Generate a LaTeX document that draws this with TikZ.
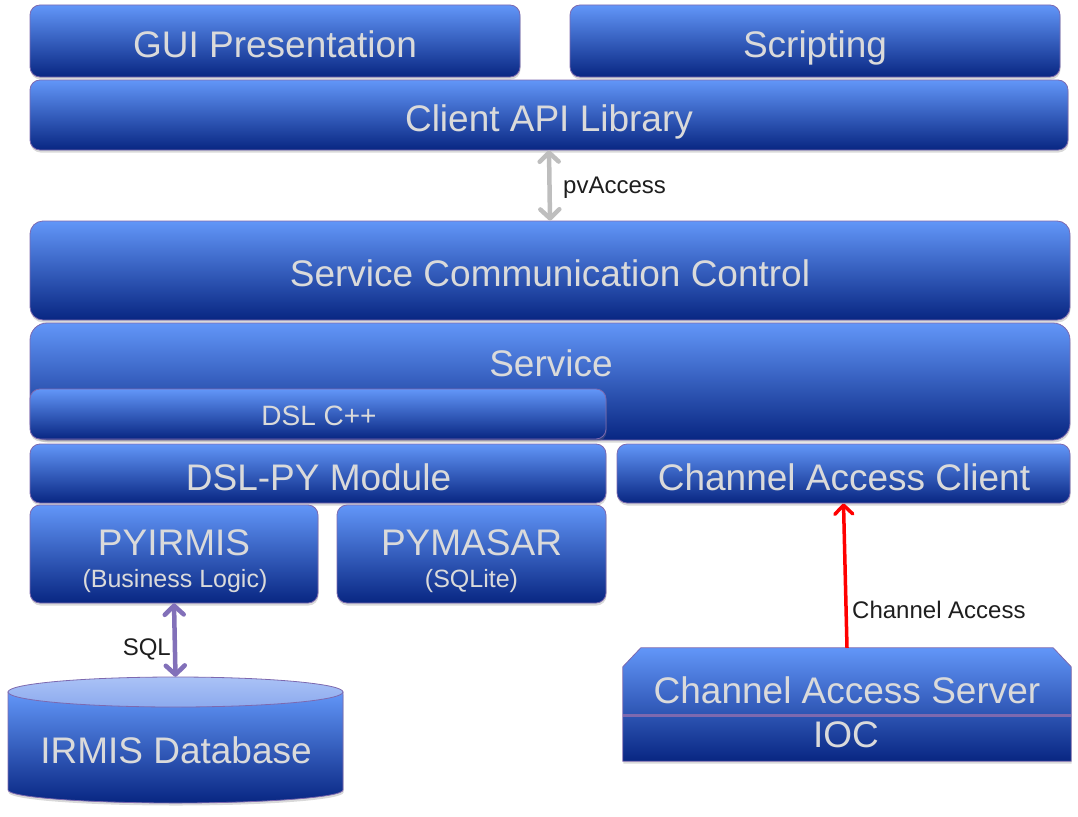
\documentclass[tikz,border=0pt]{standalone}
\usepackage{fontspec}
\setmainfont{Liberation Sans}
\usetikzlibrary{arrows.meta,shadows,calc}
\definecolor{btop}{RGB}{98,150,248}
\definecolor{bbot}{RGB}{8,38,130}
\definecolor{bline}{RGB}{125,105,175}
\definecolor{btxt}{RGB}{218,218,218}
\definecolor{pvgray}{RGB}{190,190,190}
\definecolor{sqlpurple}{RGB}{130,112,185}
\definecolor{dbtopc}{RGB}{170,194,246}
\definecolor{dbtopd}{RGB}{140,170,238}
\definecolor{lbl}{RGB}{30,30,30}
\begin{document}
\begin{tikzpicture}[x=1pt,y=-1pt,
  shad/.style={drop shadow={shadow xshift=0.5pt, shadow yshift=-2.5pt, opacity=0.3}},
  box/.style={draw=bline, line width=0.8pt, top color=btop, bottom color=bbot,
    inner sep=0pt, rounded corners=10pt, shad},
  ghost/.style={draw=none, inner sep=0pt},
  big/.style={font=\fontsize{37}{40}\selectfont, text=btxt, inner sep=0pt, anchor=base},
  mid/.style={font=\fontsize{28}{30}\selectfont, text=btxt, inner sep=0pt, anchor=base},
  small/.style={font=\fontsize{25}{28}\selectfont, text=btxt, inner sep=0pt, anchor=base},
  lab/.style={font=\fontsize{24}{26}\selectfont, text=lbl, inner sep=0pt},
  dblarrow/.style={line width=4.5pt,
    {Straight Barb[length=9pt, width=19pt, round]}-{Straight Barb[length=9pt, width=19pt, round]}}
]
\useasboundingbox (0,0) rectangle (1078,816);

% boxes
\node[box, minimum width=490, minimum height=72] (gui) at (275,41) {};
\node[box, minimum width=490, minimum height=72] (scr) at (815,41) {};
\node[box, minimum width=1038, minimum height=70] (api) at (549,115) {};
\node[box, rounded corners=13pt, minimum width=1040, minimum height=99] (scc) at (550,270.5) {};
\node[box, rounded corners=17pt, minimum width=1040, minimum height=117] (svc) at (550,381.5) {};
\node[box, minimum width=576, minimum height=50] (dslcpp) at (318,414) {};
\node[box, minimum width=576, minimum height=59] (dslpy) at (318,473.5) {};
\node[box, minimum width=453, minimum height=59] (cac) at (843.5,473.5) {};
\node[box, minimum width=288, minimum height=98] (pyirmis) at (174,554) {};
\node[box, minimum width=269, minimum height=98] (pymasar) at (471.5,554) {};

% channel access server / IOC
\node[ghost, minimum width=448, minimum height=113] (cas) at (847,704.5) {};
\path[draw=bline, line width=0.8pt, top color=btop, bottom color=bbot, shad]
  ($(cas.north west)+(0,19)$) -- ($(cas.north west)+(18,0)$) --
  ($(cas.north east)+(-18,0)$) -- ($(cas.north east)+(0,19)$) --
  (cas.south east) -- (cas.south west) -- cycle;
\draw[bline, line width=3pt] ($(cas.west)+(0,10.5)$) -- ($(cas.east)+(0,10.5)$);

% database cylinder
\node[ghost, minimum width=335, minimum height=126] (db) at (175.5,740) {};
\path[draw=bline, line width=0.8pt, top color=btop, bottom color=bbot, shad]
  (8,692) -- (8,790) arc[start angle=180, end angle=0, x radius=167.5, y radius=13]
  -- (343,692) -- cycle;
\path[draw=bline, line width=0.8pt, top color=dbtopc, bottom color=dbtopd]
  (175.5,692) ellipse [x radius=167.5, y radius=15];

% texts
\node[big] (tgui) at (275,57) {GUI Presentation};
\node[big] (tscr) at (815,57) {Scripting};
\node[big] (tapi) at (549,131) {Client API Library};
\node[big] (tscc) at (550,286) {Service Communication Control};
\node[big] (tsvc) at (551,376) {Service};
\node[mid] (tdslcpp) at (319,425) {DSL C++};
\node[big] (tdslpy) at (318.5,490) {DSL-PY Module};
\node[big] (tcac) at (844,490) {Channel Access Client};
\node[big] (tpyirmis) at (174,555) {PYIRMIS};
\node[small] (tbl) at (175,587) {(Business Logic)};
\node[big] (tpymasar) at (471.5,555) {PYMASAR};
\node[small] (tsqlite) at (471.5,587) {(SQLite)};
\node[big] (tcas) at (847,703) {Channel Access Server};
\node[big] (tioc) at (846,747) {IOC};
\node[big] (tdb) at (176,763) {IRMIS Database};

% connectors
\draw[pvgray, dblarrow] (api.south) -- (scc.north);
\node[lab, anchor=base west] (lpv) at (563,193) {pvAccess};
\draw[sqlpurple, dblarrow] (pyirmis.south) -- (db.north);
\node[lab, anchor=base east] (lsql) at (171,655) {SQL};
\draw[red, line width=3.5pt, -{Straight Barb[length=9pt, width=18pt, round]}] (cas.north) -- (cac.south);
\node[lab, anchor=base west] (lca) at (852,618) {Channel Access};
\end{tikzpicture}
\end{document}
